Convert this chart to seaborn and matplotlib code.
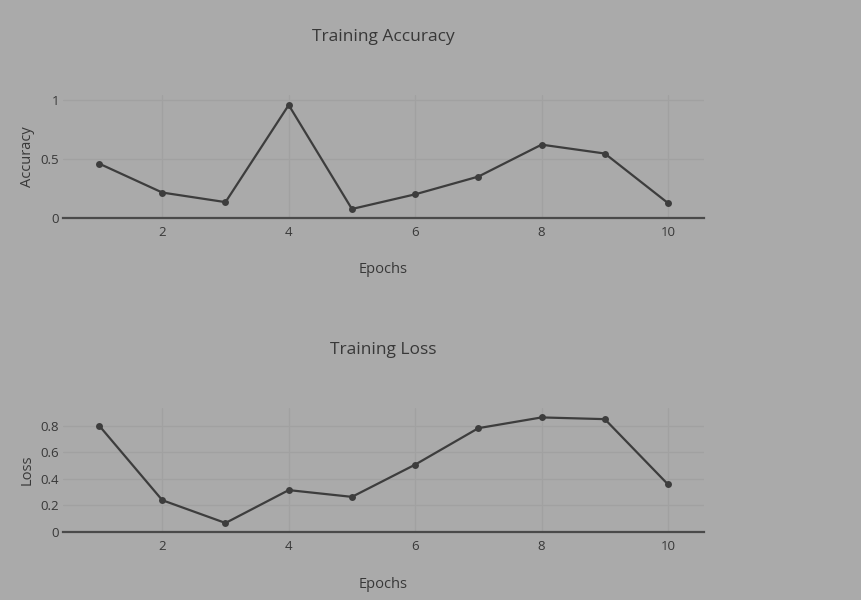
import matplotlib
matplotlib.use("Agg")
import matplotlib.pyplot as plt
import seaborn as sns
import pandas as pd

epochs = [1, 2, 3, 4, 5, 6, 7, 8, 9, 10]
accuracy = [0.46, 0.215, 0.134, 0.955, 0.076, 0.20, 0.35, 0.62, 0.545, 0.126]
loss = [0.803, 0.24, 0.068, 0.316, 0.265, 0.508, 0.783, 0.864, 0.851, 0.359]

acc_ticks = [0, 0.5, 1]
acc_ticklabels = ["0", "0.5", "1"]
loss_ticks = [0, 0.2, 0.4, 0.6, 0.8]
loss_ticklabels = ["0", "0.2", "0.4", "0.6", "0.8"]
epoch_ticks = [2, 4, 6, 8, 10]

df = pd.DataFrame({"Epochs": epochs, "Accuracy": accuracy, "Loss": loss})

sns.set_theme(style="white")
plt.rcParams["font.family"] = ["Open Sans", "DejaVu Sans"]

BG = "#aaaaaa"
INK = "#383838"
GRID = "#a1a1a1"
LINE = "#3d3d3d"

fig = plt.figure(figsize=(8.61, 6.0), dpi=100, facecolor=BG)

panels = [
    ("Accuracy", "Training Accuracy", [0.0732, 0.6367, 0.7445, 0.2050], (0, 1.04),
     acc_ticks, acc_ticklabels),
    ("Loss", "Training Loss", [0.0732, 0.1133, 0.7445, 0.2067], (0, 0.935),
     loss_ticks, loss_ticklabels),
]

for col, title, rect, ylim, yt, ytl in panels:
    ax = fig.add_axes(rect)
    ax.set_facecolor(BG)
    sns.lineplot(data=df, x="Epochs", y=col, ax=ax, color=LINE, linewidth=1.6,
                 marker="o", markersize=5, markeredgewidth=0, markerfacecolor=LINE,
                 zorder=3)
    ax.set_xlim(0.43, 10.57)
    ax.set_ylim(*ylim)
    ax.set_xticks(epoch_ticks)
    ax.set_xticklabels([str(t) for t in epoch_ticks])
    ax.set_yticks(yt)
    ax.set_yticklabels(ytl)
    ax.tick_params(axis="both", length=0, labelsize=9.5, colors=INK)
    ax.tick_params(axis="x", pad=6)
    ax.tick_params(axis="y", pad=3)
    ax.grid(True, color=GRID, linewidth=0.9)
    ax.set_axisbelow(True)
    for side in ("top", "right", "left"):
        ax.spines[side].set_visible(False)
    ax.spines["bottom"].set_color("#4a4a4a")
    ax.spines["bottom"].set_linewidth(1.6)
    ax.spines["bottom"].set_zorder(2)

    h_px = rect[3] * 600
    ax.set_xlabel("Epochs", fontsize=10.5, color=INK)
    ax.xaxis.label.set_va("center")
    ax.xaxis.set_label_coords(0.5, -52 / h_px)
    ax.set_ylabel(col, fontsize=10.5, color=INK)
    ax.yaxis.label.set_va("center")
    ax.yaxis.set_label_coords(-0.056, 0.5)
    ax.set_title(title, fontsize=12.5, color=INK, y=1 + 50 / h_px, va="center")

fig.savefig("out.png", dpi=100, facecolor=BG)
